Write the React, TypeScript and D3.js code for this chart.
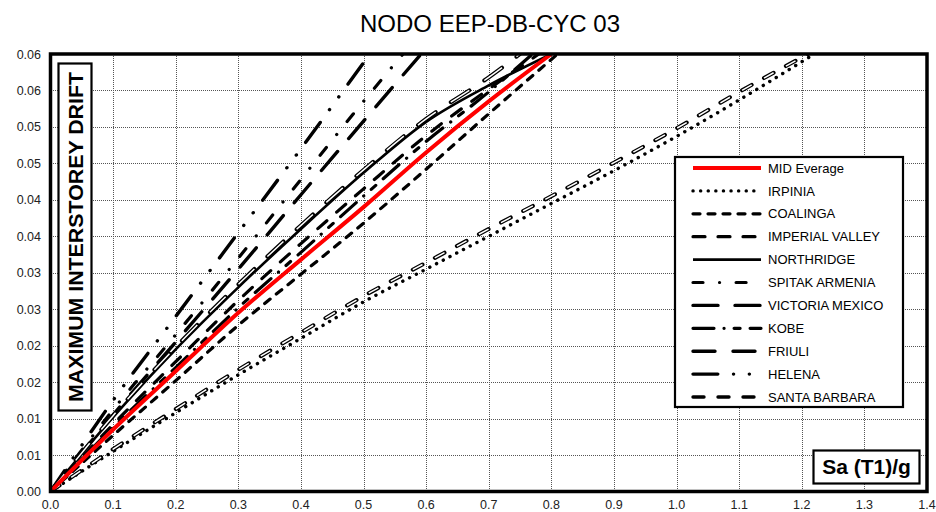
import React from 'react';
import * as d3 from 'd3';

const TITLE = 'NODO EEP-DB-CYC 03';
const Y_TITLE = 'MAXIMUM INTERSTOREY DRIFT';
const X_TITLE = 'Sa (T1)/g';

const X_TICKS = [0, 0.1, 0.2, 0.3, 0.4, 0.5, 0.6, 0.7, 0.8, 0.9, 1.0, 1.1, 1.2, 1.3, 1.4];
const X_TICK_LABELS = ['0.0', '0.1', '0.2', '0.3', '0.4', '0.5', '0.6', '0.7', '0.8', '0.9', '1.0', '1.1', '1.2', '1.3', '1.4'];
const Y_TICKS = [0, 0.005, 0.01, 0.015, 0.02, 0.025, 0.03, 0.035, 0.04, 0.045, 0.05, 0.055, 0.06];
const Y_TICK_LABELS = ['0.00', '0.01', '0.01', '0.02', '0.02', '0.03', '0.03', '0.04', '0.04', '0.05', '0.05', '0.06', '0.06'];

type P = [number, number];

const MID_EVERAGE: P[] = [[0, 0], [0.1, 0.0085], [0.2, 0.0165], [0.3, 0.0245], [0.4, 0.0318], [0.5, 0.039], [0.6, 0.0465], [0.7, 0.0535], [0.8, 0.06]];
const IRPINIA: P[] = [[0, 0], [0.1, 0.0055], [0.2, 0.0108], [0.3, 0.016], [0.4, 0.021], [0.5, 0.026], [0.6, 0.0305], [0.7, 0.035], [0.8, 0.0395], [0.9, 0.044], [1.0, 0.0487], [1.1, 0.0537], [1.22, 0.06]];
const COALINGA: P[] = [[0, 0], [0.1, 0.0077], [0.2, 0.0152], [0.3, 0.0228], [0.4, 0.0298], [0.5, 0.0368], [0.6, 0.0442], [0.7, 0.0518], [0.81, 0.06]];
const IMPERIAL_VALLEY: P[] = [[0, 0], [0.1, 0.0092], [0.2, 0.0178], [0.3, 0.0262], [0.4, 0.034], [0.5, 0.0415], [0.6, 0.0488], [0.7, 0.0552], [0.78, 0.06]];
const NORTHRIDGE: P[] = [[0, 0], [0.1, 0.0102], [0.2, 0.0195], [0.3, 0.028], [0.4, 0.036], [0.5, 0.0437], [0.6, 0.0507], [0.7, 0.0557], [0.8, 0.06]];
const SPITAK_ARMENIA: P[] = [[0, 0], [0.1, 0.0112], [0.2, 0.0215], [0.3, 0.032], [0.4, 0.0428], [0.5, 0.0535], [0.563, 0.06]];
const VICTORIA_MEXICO: P[] = [[0, 0], [0.1, 0.0105], [0.2, 0.0205], [0.3, 0.0305], [0.4, 0.0407], [0.5, 0.0508], [0.592, 0.06]];
const KOBE: P[] = [[0, 0], [0.1, 0.0088], [0.2, 0.017], [0.3, 0.0252], [0.4, 0.0328], [0.5, 0.0405], [0.6, 0.048], [0.7, 0.0548], [0.77, 0.06]];
const FRIULI: P[] = [[0, 0], [0.1, 0.0104], [0.2, 0.0198], [0.3, 0.0284], [0.4, 0.0365], [0.5, 0.0441], [0.6, 0.0511], [0.7, 0.0568], [0.75, 0.06]];
const HELENA: P[] = [[0, 0], [0.1, 0.0125], [0.2, 0.024], [0.3, 0.0355], [0.4, 0.047], [0.51, 0.06]];
const SANTA_BARBARA: P[] = [[0, 0], [0.1, 0.0058], [0.2, 0.0113], [0.3, 0.0167], [0.4, 0.0218], [0.5, 0.0268], [0.6, 0.0314], [0.7, 0.036], [0.8, 0.0405], [0.9, 0.0451], [1.0, 0.0498], [1.1, 0.0548], [1.21, 0.06]];

const SERIES_NAMES = ['MID Everage', 'IRPINIA', 'COALINGA', 'IMPERIAL VALLEY', 'NORTHRIDGE', 'SPITAK ARMENIA', 'VICTORIA MEXICO', 'KOBE', 'FRIULI', 'HELENA', 'SANTA BARBARA'];
const SERIES_DATA: P[][] = [MID_EVERAGE, IRPINIA, COALINGA, IMPERIAL_VALLEY, NORTHRIDGE, SPITAK_ARMENIA, VICTORIA_MEXICO, KOBE, FRIULI, HELENA, SANTA_BARBARA];

type Style = { color: string; width: number; dash: string; hollow?: boolean };
const STYLES: Style[] = [
  { color: '#ff0000', width: 4, dash: '' },
  { color: '#000', width: 3.4, dash: '0.1 7.5' },
  { color: '#000', width: 3.2, dash: '7 8' },
  { color: '#000', width: 3.2, dash: '12 13' },
  { color: '#000', width: 2.6, dash: '' },
  { color: '#000', width: 3.2, dash: '10 16.5 0.1 16.5' },
  { color: '#000', width: 3.4, dash: '25 17' },
  { color: '#000', width: 3.2, dash: '21 10 0.1 10 6 10' },
  { color: '#000', width: 3.0, dash: '22 18', hollow: true },
  { color: '#000', width: 3.4, dash: '24.8 15.7 0.1 15.7 0.1 15.7' },
  { color: '#000', width: 3.0, dash: '11 14', hollow: true },
];
const DRAW_ORDER = [1, 10, 2, 3, 7, 5, 9, 6, 4, 8, 0];

const W = 936;
const H = 512;
const L = 50.5;
const R = 927;
const T = 54;
const B = 491.5;
const FONT = 'Arial, "Liberation Sans", Helvetica, sans-serif';

export default function App() {
  const x = d3.scaleLinear().domain([0, 1.4]).range([L, R]);
  const y = d3.scaleLinear().domain([0, 0.06]).range([B, T]);
  const line = d3.line<P>().x((d) => x(d[0])).y((d) => y(d[1])).curve(d3.curveMonotoneX);

  const legX = 675;
  const legY = 157;
  const legW = 228;
  const legH = 250;
  const rowY = (i: number) => 168 + i * 22.9;

  return (
    <svg width={W} height={H} style={{ position: 'absolute', left: 0, top: 0, background: '#fff' }} fontFamily={FONT}>
      <rect x={0} y={0} width={W} height={H} fill="#fff" />
      <defs>
        <clipPath id="plot">
          <rect x={L} y={T} width={R - L} height={B - T} />
        </clipPath>
      </defs>
      <text x={490} y={32} textAnchor="middle" fontSize={24} fill="#000">{TITLE}</text>

      {/* grid */}
      <g stroke="#555" strokeWidth={1} strokeDasharray="1 1" shapeRendering="crispEdges">
        {X_TICKS.slice(1, -1).map((t) => (
          <line key={'gx' + t} x1={Math.round(x(t)) + 0.5} x2={Math.round(x(t)) + 0.5} y1={T} y2={B} />
        ))}
        {Y_TICKS.slice(1, -1).map((t) => (
          <line key={'gy' + t} x1={L} x2={R} y1={Math.round(y(t)) + 0.5} y2={Math.round(y(t)) + 0.5} />
        ))}
      </g>

      {/* tick labels */}
      <g fontSize={12.5} fill="#222">
        {Y_TICKS.map((t, i) => (
          <text key={'yl' + i} x={41} y={y(t) + 4.5} textAnchor="end">{Y_TICK_LABELS[i]}</text>
        ))}
        {X_TICKS.map((t, i) => (
          <text key={'xl' + i} x={x(t)} y={509} textAnchor="middle">{X_TICK_LABELS[i]}</text>
        ))}
      </g>

      {/* y title box */}
      <rect x={58.5} y={63.5} width={33} height={347} fill="#fff" stroke="#000" strokeWidth={2.2} />
      <text transform={`translate(82.5,${(63.5 + 410.5) / 2}) rotate(-90)`} textAnchor="middle" fontSize={21} fontWeight="bold" fill="#000" textLength={330} lengthAdjust="spacingAndGlyphs">{Y_TITLE}</text>

      {/* series */}
      <g clipPath="url(#plot)" fill="none">
        {DRAW_ORDER.map((i) => {
          const s = STYLES[i];
          const d = line(SERIES_DATA[i]) || '';
          if (s.hollow) {
            return (
              <g key={'s' + i}>
                <path d={d} stroke="#000" strokeWidth={s.width + 1} strokeDasharray={s.dash} strokeLinecap="round" />
                <path d={d} stroke="#fff" strokeWidth={1.5} strokeDasharray={s.dash} strokeLinecap="butt" />
              </g>
            );
          }
          return (
            <path key={'s' + i} d={d} stroke={s.color} strokeWidth={s.width} strokeDasharray={s.dash || undefined} strokeLinecap={s.dash ? 'round' : 'butt'} strokeLinejoin="round" />
          );
        })}
      </g>

      {/* plot border */}
      <rect x={L} y={T} width={R - L} height={B - T} fill="none" stroke="#000" strokeWidth={3.5} />

      {/* x title box */}
      <rect x={813.5} y={450.5} width={106} height={33} fill="#fff" stroke="#000" strokeWidth={2.2} />
      <text x={866.5} y={474} textAnchor="middle" fontSize={21} fontWeight="bold" fill="#000">{X_TITLE}</text>

      {/* legend */}
      <rect x={legX} y={legY} width={legW} height={legH} fill="#fff" stroke="#000" strokeWidth={2.2} />
      {SERIES_NAMES.map((name, i) => {
        const s = STYLES[i];
        const yy = rowY(i);
        return (
          <g key={'lg' + i}>
            <line x1={693} x2={761} y1={yy} y2={yy} stroke={s.color} strokeWidth={s.hollow ? 3.4 : s.width} strokeDasharray={s.dash || undefined} strokeLinecap={s.dash ? 'round' : 'butt'} />
            <text x={768} y={yy + 4.6} fontSize={13} fill="#000">{name}</text>
          </g>
        );
      })}
    </svg>
  );
}
